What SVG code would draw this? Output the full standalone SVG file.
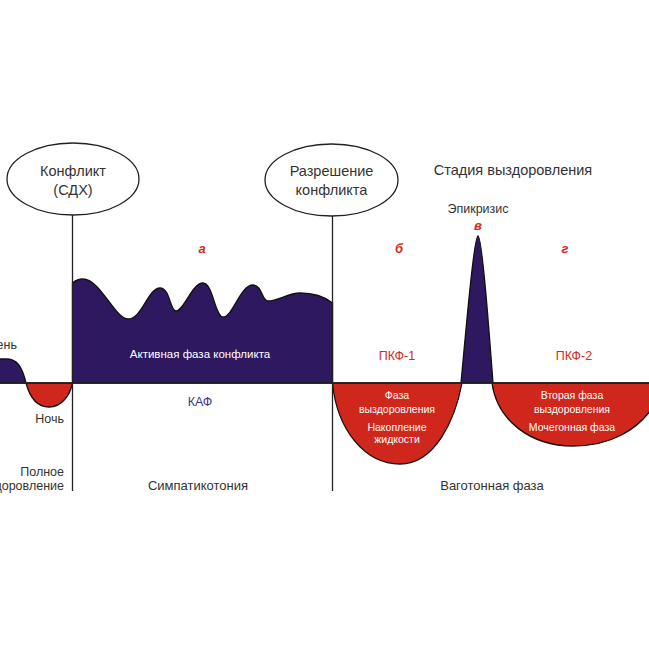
<svg xmlns="http://www.w3.org/2000/svg" width="649" height="649" viewBox="0 0 649 649">
<style>
text{font-family:"Liberation Sans",Arial,sans-serif;fill:#333333}
.node{fill:#ffffff;stroke:#222222;stroke-width:1.3}
.hd{font-size:14.5px}
.sm{font-size:12.5px}
.wt{fill:#ffffff;font-size:10.5px}
.rl{fill:#d42a20;font-size:12.5px}
.let{fill:#d42a20;font-size:13px;font-weight:bold;font-style:italic}
.pur{fill:#2e1860;stroke:#111111;stroke-width:1.3}
.red{fill:#d0271d;stroke:#111111;stroke-width:1.3}
.ln{stroke:#222222;stroke-width:1.3;fill:none}
</style>
<rect width="649" height="649" fill="#ffffff"/>
<g id="shapes">
<path class="pur" d="M-5,383 L-5,359 L6,359 C17,359 22,366 26,383 Z"/>
<path class="red" d="M26,383 C30,398 38,407 49,407 C62,407 70,395 72.5,383 Z"/>
<path class="pur" d="M72.5,383 L72.5,283 C76,280 79,279 83,279 C100,279 115,319 128,319 C142,319 148,288 160,288 C170,288 170,311 176,311 C184,311 192,283 203,283 C213,283 215,317 223,317 C233,317 240,285 253,285 C262,285 262,301 268,301 C278,301 288,293 300,293 C315,293 325,297 332.5,303 L332.5,383 Z"/>
<path class="red" d="M332.5,383 C337,430 365,464 400,464 C435,464 455,420 462,383 Z"/>
<path class="pur" d="M461,383 C466,330 474,236 478,236 C482,236 489,330 493,383 Z"/>
<path class="red" d="M492,383 C497,420 530,446 573,446 C610,446 640,430 656,402 L656,383 Z"/>
</g>
<g id="connectors">
<line class="ln" x1="0" y1="383" x2="649" y2="383"/>
<line class="ln" x1="72.5" y1="215" x2="72.5" y2="491"/>
<line class="ln" x1="332.5" y1="216" x2="332.5" y2="491"/>
</g>
<g id="node-conflict">
<ellipse class="node" cx="73" cy="179" rx="66" ry="36"/>
<text class="hd" x="73" y="176" text-anchor="middle">Конфликт</text>
<text class="hd" x="73" y="195" text-anchor="middle">(СДХ)</text>
</g>
<g id="node-resolution">
<ellipse class="node" cx="331.5" cy="180" rx="66.5" ry="36"/>
<text class="hd" x="331.5" y="176" text-anchor="middle">Разрешение</text>
<text class="hd" x="331.5" y="195" text-anchor="middle">конфликта</text>
</g>
<g id="labels">
<text class="hd" x="513" y="175" text-anchor="middle">Стадия выздоровления</text>
<text class="sm" x="478" y="213" text-anchor="middle">Эпикризис</text>
<text class="let" x="478" y="230" text-anchor="middle">в</text>
<text class="let" x="202" y="253" text-anchor="middle">а</text>
<text class="let" x="399" y="253" text-anchor="middle">б</text>
<text class="let" x="565" y="253" text-anchor="middle">г</text>
<text class="sm" x="17" y="349" text-anchor="end">День</text>
<text x="200" y="358" text-anchor="middle" style="fill:#ffffff;font-size:11.5px">Активная фаза конфликта</text>
<text class="rl" x="397" y="360" text-anchor="middle">ПКФ-1</text>
<text class="rl" x="574" y="360" text-anchor="middle">ПКФ-2</text>
<text class="sm" x="64" y="423" text-anchor="end">Ночь</text>
<text x="200" y="406" text-anchor="middle" style="fill:#3d3580;font-size:12.5px">КАФ</text>
<text class="wt" x="397" y="399" text-anchor="middle">Фаза</text>
<text class="wt" x="397" y="413" text-anchor="middle">выздоровления</text>
<text class="wt" x="397" y="431" text-anchor="middle">Накопление</text>
<text class="wt" x="397" y="443" text-anchor="middle">жидкости</text>
<text class="wt" x="572" y="399" text-anchor="middle">Вторая фаза</text>
<text class="wt" x="572" y="413" text-anchor="middle">выздоровления</text>
<text class="wt" x="572" y="431" text-anchor="middle">Мочегонная фаза</text>
<text class="sm" x="64" y="476" text-anchor="end">Полное</text>
<text class="sm" x="64" y="490" text-anchor="end">выздоровление</text>
<text x="198" y="490" text-anchor="middle" style="font-size:13px">Симпатикотония</text>
<text x="492" y="490" text-anchor="middle" style="font-size:13px">Ваготонная фаза</text>
</g>
</svg>
